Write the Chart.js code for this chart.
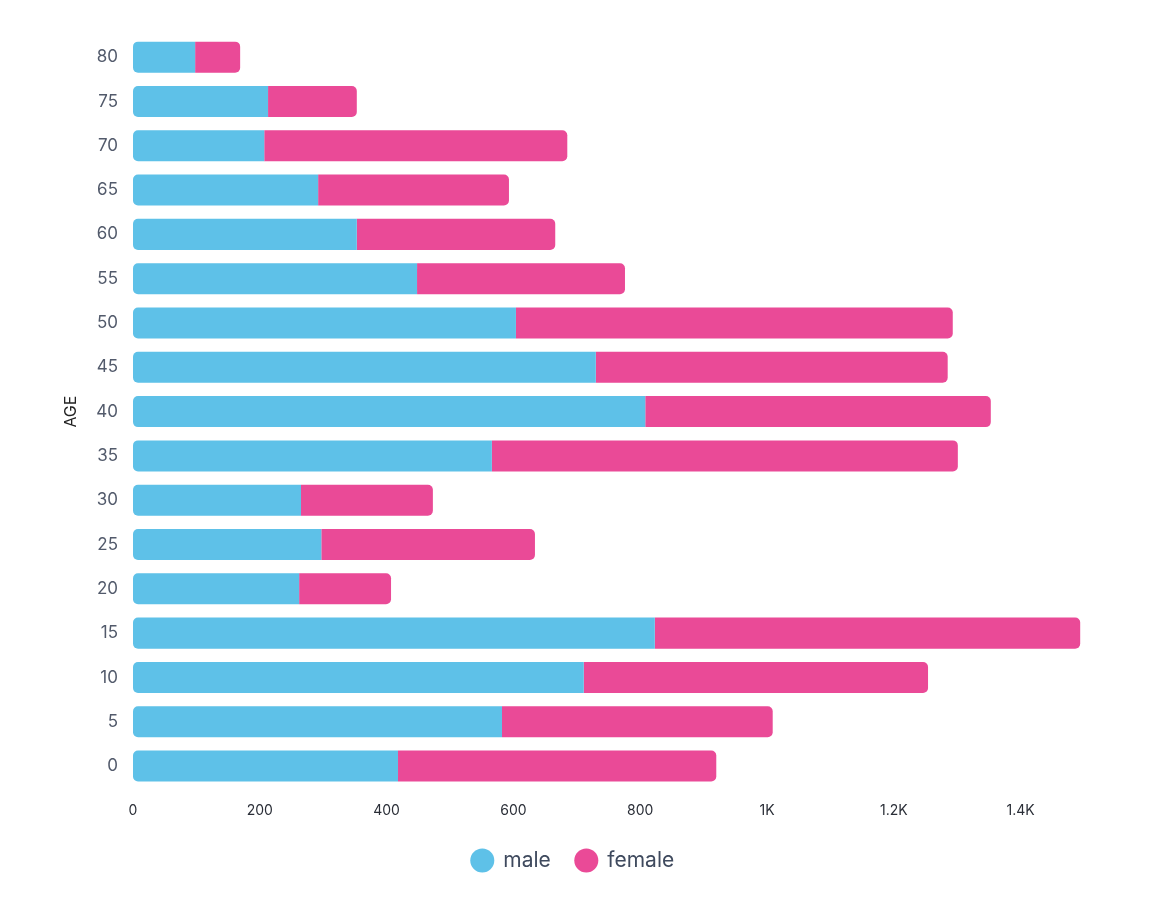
<!DOCTYPE html>
<html>
<head>
<meta charset="utf-8">
<script src="https://cdn.jsdelivr.net/npm/chart.js@4"></script>
<style>
  html, body { margin: 0; padding: 0; background: #fff; }
  #wrap { width: 1155px; height: 917px; }
</style>
</head>
<body>
<div id="wrap"><canvas id="chart"></canvas></div>
<script>
// age groups, top to bottom as drawn
const ages = ["80", "75", "70", "65", "60", "55", "50", "45", "40", "35", "30", "25", "20", "15", "10", "5", "0"];
const male = [98, 213, 207, 292, 353, 448, 604, 730, 808, 566, 265, 297, 262, 823, 711, 582, 418];
const female = [71, 140, 478, 301, 313, 328, 689, 555, 545, 735, 208, 337, 145, 671, 543, 427, 502];
const xTicks = [0, 200, 400, 600, 800, 1000, 1200, 1400];

const maleColor = "#5ec1e8";
const femaleColor = "#ea4a97";

const fmt = (v) => v >= 1000 ? (v / 1000) + "K" : String(v);

new Chart(document.getElementById("chart"), {
  type: "bar",
  data: {
    labels: ages,
    datasets: [
      {
        label: "male",
        data: male,
        backgroundColor: maleColor,
        borderWidth: 0,
        borderSkipped: false,
        borderRadius: { topLeft: 5, bottomLeft: 5, topRight: 0, bottomRight: 0 },
      },
      {
        label: "female",
        data: female,
        backgroundColor: femaleColor,
        borderWidth: 0,
        borderSkipped: false,
        borderRadius: { topLeft: 0, bottomLeft: 0, topRight: 5, bottomRight: 5 },
      },
    ],
  },
  options: {
    indexAxis: "y",
    responsive: true,
    maintainAspectRatio: false,
    animation: false,
    layout: { padding: { left: 62, right: 71, top: 35, bottom: 36 } },
    datasets: { bar: { barPercentage: 0.7, categoryPercentage: 1 } },
    scales: {
      x: {
        stacked: true,
        min: 0,
        max: 1500,
        grid: { display: false },
        border: { display: false },
        afterBuildTicks: (axis) => { axis.ticks = xTicks.map((v) => ({ value: v })); },
        ticks: {
          padding: 6,
          color: "#2a2e37",
          font: { family: "Inter", size: 14 },
          callback: (v) => fmt(v),
        },
      },
      y: {
        stacked: true,
        grid: { display: false },
        border: { display: false },
        afterFit: (axis) => { axis.width = 133 - 62; },
        title: {
          display: true,
          text: "AGE",
          color: "#222",
          font: { family: "Inter", size: 16 },
          padding: 0,
        },
        ticks: {
          padding: 7,
          color: "#525a6b",
          font: { family: "Inter", size: 17 },
        },
      },
    },
    plugins: {
      tooltip: { enabled: false },
      legend: {
        position: "bottom",
        labels: {
          usePointStyle: true,
          pointStyle: "circle",
          boxHeight: 17,
          padding: 25,
          color: "#3f4a5e",
          font: { family: "Inter", size: 21 },
        },
      },
    },
  },
});
</script>
</body>
</html>
